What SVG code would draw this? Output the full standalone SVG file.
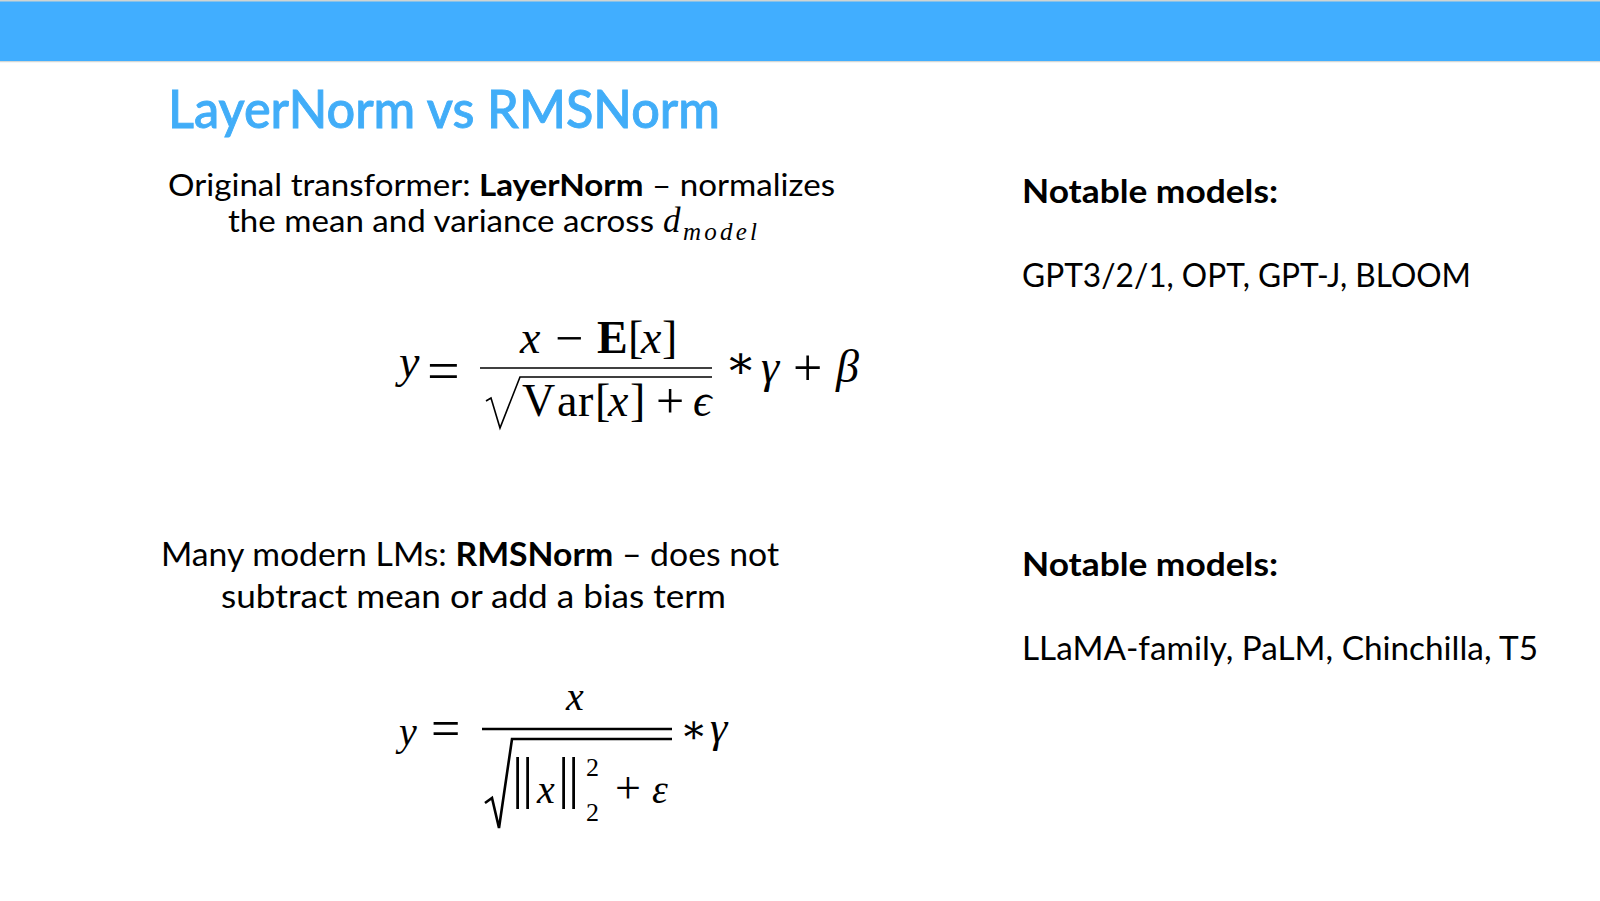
<svg xmlns="http://www.w3.org/2000/svg" width="1600" height="901" viewBox="0 0 1600 901">
<style>
.sans{font-family:Lato,"Open Sans","Liberation Sans",sans-serif;fill:#000}
.b{font-weight:bold}
.title{font-family:Lato,"Open Sans","Liberation Sans",sans-serif;fill:#41ADF8;stroke:#41ADF8;stroke-width:0.9px;font-size:52px;font-weight:500}
.m{font-family:"Liberation Serif","DejaVu Serif",serif;fill:#000}
.i{font-style:italic}
.ln{stroke:#000;fill:none;stroke-linejoin:miter}
</style>
<rect x="0" y="0" width="1600" height="901" fill="#fff"/>
<g id="header">
<rect x="0" y="1" width="1600" height="60" fill="#41AEFF"/>
<line x1="0" y1="0.7" x2="1600" y2="0.7" stroke="#cfd4d2" stroke-width="1.4"/>
<line x1="0" y1="61.6" x2="1600" y2="61.6" stroke="#d3d8d6" stroke-width="1.4"/>
</g>
<g id="title">
<text class="title" x="168" y="128" textLength="552" lengthAdjust="spacingAndGlyphs">LayerNorm vs RMSNorm</text>
</g>
<g id="layernorm-text">
<text class="sans" x="168" y="196" font-size="31" textLength="667" lengthAdjust="spacingAndGlyphs">Original transformer: <tspan class="b">LayerNorm</tspan> – normalizes</text>
<text class="sans" x="228" y="232" font-size="31" textLength="426" lengthAdjust="spacingAndGlyphs">the mean and variance across</text>
<text class="m i" x="663" y="232" font-size="35">d</text>
<text class="m i" x="683" y="240" font-size="25" textLength="74" lengthAdjust="spacing">model</text>
</g>
<g id="layernorm-formula">
<text class="m" font-size="46">
<tspan class="i" x="399" y="377">y</tspan>
<tspan x="427" y="390" font-size="58">=</tspan>
<tspan class="i" x="520" y="353">x</tspan>
<tspan x="555" y="355" font-size="50">−</tspan>
<tspan class="b" x="597" y="353">E</tspan>
<tspan x="628" y="353">[</tspan>
<tspan class="i" x="641" y="353">x</tspan>
<tspan x="662" y="353">]</tspan>
<tspan x="522" y="416">V</tspan>
<tspan x="557" y="416">a</tspan>
<tspan x="578" y="416">r</tspan>
<tspan x="595" y="416">[</tspan>
<tspan class="i" x="608" y="416">x</tspan>
<tspan x="630" y="416">]</tspan>
<tspan x="656" y="418" font-size="50">+</tspan>
<tspan class="i" x="693" y="416">ϵ</tspan>
<tspan x="725" y="378">∗</tspan>
<tspan class="i" x="761" y="382">γ</tspan>
<tspan x="793" y="385" font-size="52">+</tspan>
<tspan class="i" x="836" y="382">β</tspan>
</text>
<line class="ln" x1="480" y1="368" x2="712" y2="368" stroke-width="1.6"/>
<path class="ln" d="M486,401 L491,398 L500,428 L520,377 L712,377" stroke-width="1.6"/>
</g>
<g id="rmsnorm-text">
<text class="sans" x="161" y="566" font-size="33" textLength="618" lengthAdjust="spacingAndGlyphs">Many modern LMs: <tspan class="b">RMSNorm</tspan> – does not</text>
<text class="sans" x="221" y="608" font-size="33" textLength="505" lengthAdjust="spacingAndGlyphs">subtract mean or add a bias term</text>
</g>
<g id="rmsnorm-formula">
<text class="m" font-size="40">
<tspan class="i" x="399" y="745">y</tspan>
<tspan x="431" y="746" font-size="52">=</tspan>
<tspan class="i" x="566" y="710">x</tspan>
<tspan x="512" y="797" font-size="56">|</tspan>
<tspan x="522" y="797" font-size="56">|</tspan>
<tspan class="i" x="537" y="803">x</tspan>
<tspan x="558" y="797" font-size="56">|</tspan>
<tspan x="568" y="797" font-size="56">|</tspan>
<tspan x="586" y="776" font-size="26">2</tspan>
<tspan x="586" y="821" font-size="26">2</tspan>
<tspan x="615" y="803" font-size="46">+</tspan>
<tspan class="i" x="652" y="803">ε</tspan>
<tspan x="680" y="743">∗</tspan>
<tspan class="i" x="710" y="742" font-size="44">γ</tspan>
</text>
<line class="ln" x1="482" y1="729" x2="672" y2="729" stroke-width="2.6"/>
<path class="ln" d="M485,803 L492,798 L499,828 L512,739 L672,739" stroke-width="2.6"/>
</g>
<g id="models-layernorm">
<text class="sans b" x="1022" y="203" font-size="32" textLength="256" lengthAdjust="spacingAndGlyphs">Notable models:</text>
<text class="sans" x="1022" y="287" font-size="32" textLength="449" lengthAdjust="spacingAndGlyphs">GPT3/2/1, OPT, GPT-J, BLOOM</text>
</g>
<g id="models-rmsnorm">
<text class="sans b" x="1022" y="576" font-size="32" textLength="256" lengthAdjust="spacingAndGlyphs">Notable models:</text>
<text class="sans" x="1022" y="660" font-size="32" textLength="516" lengthAdjust="spacingAndGlyphs">LLaMA-family, PaLM, Chinchilla, T5</text>
</g>
<g id="connectors"/>
</svg>
